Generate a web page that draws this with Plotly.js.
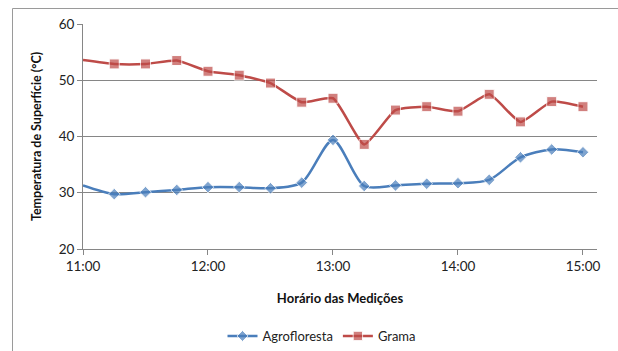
<!DOCTYPE html>
<html>
<head>
<meta charset="utf-8">
<script src="https://cdn.plot.ly/plotly-3.0.1.min.js"></script>
<style>html,body{margin:0;padding:0;background:#fff;}#chart{width:618px;height:351px;}</style>
</head>
<body>
<div id="chart"></div>
<script>
const times = ["11:00","11:15","11:30","11:45","12:00","12:15","12:30","12:45","13:00","13:15","13:30","13:45","14:00","14:15","14:30","14:45","15:00"];
const agrofloresta = [31.3,29.75,30.1,30.5,31.0,31.0,30.8,31.8,39.4,31.2,31.3,31.6,31.7,32.3,36.3,37.7,37.2];
const grama = [53.6,52.9,52.9,53.5,51.6,50.9,49.5,46.1,46.8,38.6,44.7,45.3,44.5,47.5,42.6,46.2,45.3];
const yTicks = [20,30,40,50,60];
const xTickLabels = ["11:00","12:00","13:00","14:00","15:00"];

const toDate = t => "2000-01-01 " + t;
const xs = times.map(toDate);
const sizesBlue = times.map((t,i)=> i===0 ? 0 : 9);
const sizesRed = times.map((t,i)=> i===0 ? 0 : 10);

const font = "Lato, 'Open Sans', sans-serif";
const L=83, R=597, T=24, B=249, W=618, H=351;
const pw=R-L, ph=B-T;

const traces = [
  {x: xs, y: agrofloresta, name: "Agrofloresta", type: "scatter", mode: "lines+markers",
   line: {color: "#4A7EBB", width: 2.5, shape: "spline", smoothing: 0.8},
   marker: {symbol: "diamond", size: sizesBlue, color: "#4A7EBB"}},
  {x: xs, y: grama, name: "Grama", type: "scatter", mode: "lines+markers",
   line: {color: "#BE4B48", width: 2.5, shape: "spline", smoothing: 0.5},
   marker: {symbol: "square", size: sizesRed, color: "#BE4B48"}}
];

const layout = {
  width: W, height: H,
  margin: {l: L, r: W-R, t: T, b: H-B, pad: 0, autoexpand: false},
  paper_bgcolor: "#fff", plot_bgcolor: "#fff",
  showlegend: true,
  legend: {orientation: "h", x: (322-L)/pw, xanchor: "center", y: (B-336)/ph, yanchor: "middle",
           font: {family: font, size: 13, color: "#222"}, itemwidth: 30, tracegroupgap: 0},
  xaxis: {type: "date", range: [toDate("11:00"), toDate("15:06:44")], automargin: false,
          tickvals: xTickLabels.map(toDate), ticktext: xTickLabels,
          showgrid: false, showline: true, linecolor: "#868686", linewidth: 1,
          ticks: "outside", ticklen: 5, tickcolor: "#868686",
          tickfont: {family: font, size: 13.5, color: "#222"},
          title: {text: "<b>Horário das Medições</b>", font: {family: font, size: 13, color: "#111"}, standoff: 20},
          zeroline: false, fixedrange: true},
  yaxis: {range: [20, 60], tickvals: yTicks, showgrid: true, gridcolor: "#868686", gridwidth: 1, automargin: false,
          showline: true, linecolor: "#868686", linewidth: 1,
          ticks: "outside", ticklen: 5, tickcolor: "#868686",
          tickfont: {family: font, size: 13.5, color: "#222"},
          title: {text: "<b>Temperatura de Superfície (°C)</b>", font: {family: font, size: 12.5, color: "#111"}, standoff: 14},
          zeroline: false, fixedrange: true},
  shapes: [
    {type: "rect", xref: "paper", yref: "paper",
     x0: (12.5-L)/pw, x1: (W+10-L)/pw, y0: (B-(H+10))/ph, y1: (B-8.5)/ph,
     line: {color: "#9a9a9a", width: 1}, fillcolor: "rgba(0,0,0,0)", layer: "below"}
  ]
};

Plotly.newPlot("chart", traces, layout, {displayModeBar: false, staticPlot: true});
</script>
</body>
</html>
